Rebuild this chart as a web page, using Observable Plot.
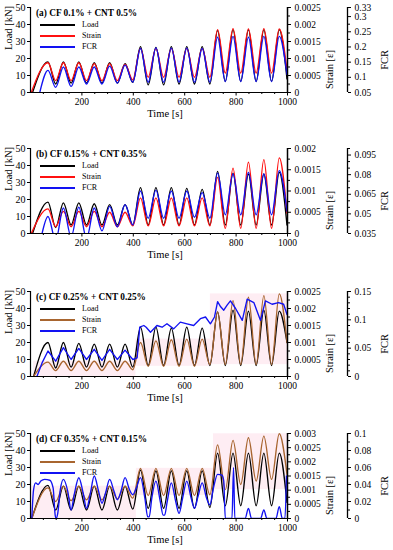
<!DOCTYPE html>
<html><head><meta charset="utf-8">
<script src="https://cdn.jsdelivr.net/npm/d3@7"></script>
<script src="https://cdn.jsdelivr.net/npm/@observablehq/plot@0.6"></script>
<style>
html,body{margin:0;padding:0;background:#fff;}
#root{position:relative;width:393px;height:550px;overflow:hidden;font-family:"Liberation Serif","Times New Roman",serif;}
.panel{position:absolute;left:0;width:393px;}
.panel svg{display:block;}
.leg{position:absolute;left:0;width:200px;height:60px;}
.ttl{position:absolute;left:36px;font-weight:bold;font-size:9.3px;line-height:11px;white-space:nowrap;color:#000}
.sw{position:absolute;left:40px;width:35px;height:1.5px}
.lbl{position:absolute;left:82px;font-size:8px;line-height:10px;color:#000;white-space:nowrap}
</style></head>
<body><div id="root"></div>
<script>
// ---------- shared ----------
const cycleTime = [68, 98, 128, 158, 188, 218, 248, 278, 308, 338, 368, 398, 428, 458, 488, 518, 548, 578, 608, 638, 668, 698, 728, 758, 788, 818, 848, 878, 908, 938, 968, 998];
const loadTicks = [0, 10, 20, 30, 40, 50];
const timeTicks = [200, 400, 600, 800, 1000];
const timeMinorTicks = [50, 100, 150, 250, 300, 350, 450, 500, 550, 650, 700, 750, 850, 900, 950];
const seriesNames = ["Load", "Strain", "FCR"];

// ---------- panel (a) ----------
const titleA = "(a) CF 0.1% + CNT 0.5%";
const startTimeA = [8, 3, 36];          // load, strain, FCR start times
const loadA = [18, 5, 18, 5.5, 18, 5.5, 17.5, 5.5, 17.5, 5.5, 17, 6, 27, 4.5, 26.5, 4.5, 27, 5, 27, 5, 27, 5, 36.5, 6.5, 37, 6.5, 37, 6.5, 37, 6.5, 37, 8];
const strainA = [0.000875, 0.00035, 0.000875, 0.00035, 0.000875, 0.00035, 0.00085, 0.00035, 0.00085, 0.00035, 0.000825, 0.00037, 0.0013, 0.00045, 0.0013, 0.00045, 0.0013, 0.00045, 0.0013, 0.00045, 0.0013, 0.00045, 0.00185, 0.00057, 0.00188, 0.00057, 0.00187, 0.00057, 0.00188, 0.00057, 0.00187, 0.00065];
const fcrA = [0.123, 0.067, 0.134, 0.07, 0.134, 0.078, 0.134, 0.078, 0.137, 0.081, 0.14, 0.084, 0.195, 0.084, 0.197, 0.084, 0.196, 0.084, 0.196, 0.084, 0.195, 0.084, 0.232, 0.086, 0.235, 0.086, 0.232, 0.086, 0.235, 0.086, 0.235, 0.11];
const strainTicksA = [0, 0.0005, 0.001, 0.0015, 0.002, 0.0025];
const strainMinorA = [0.00025, 0.00075, 0.00125, 0.00175, 0.00225];
const fcrTicksA = [0.05, 0.1, 0.15, 0.2, 0.25, 0.3, 0.33];
const fcrMinorA = [0.075, 0.125, 0.175, 0.225, 0.275];

// ---------- panel (b) ----------
const titleB = "(b) CF 0.15% + CNT 0.35%";
const startTimeB = [8, 3, 45];
const loadB = [18.5, 3.5, 18, 5, 18, 5, 17.5, 5, 17, 5, 17, 5, 27, 5, 27, 5, 27, 5, 26.5, 5, 26, 5, 36.5, 5, 35.5, 5, 35, 5, 35, 5, 36, 5];
const strainB = [0.00058, 0.00016, 0.00052, 0.00016, 0.00052, 0.00016, 0.00052, 0.00016, 0.0005, 0.00016, 0.0005, 0.00018, 0.00084, 0.00018, 0.00084, 0.00018, 0.00084, 0.00018, 0.00084, 0.00018, 0.00084, 0.00018, 0.00132, 0.00012, 0.00154, 0.00012, 0.00168, 0.00012, 0.00174, 0.00012, 0.00178, 0.00048];
const fcrB = [0.048, 0.0298, 0.0545, 0.0324, 0.0552, 0.0311, 0.0545, 0.037, 0.0558, 0.0402, 0.0571, 0.0415, 0.0675, 0.0467, 0.0682, 0.0467, 0.0675, 0.0467, 0.0675, 0.0474, 0.0662, 0.0467, 0.0812, 0.0493, 0.0805, 0.0493, 0.0818, 0.0493, 0.0805, 0.0493, 0.0831, 0.052];
const strainTicksB = [0, 0.0005, 0.001, 0.0015, 0.002];
const strainMinorB = [0.00025, 0.00075, 0.00125, 0.00175];
const fcrTicksB = [0.035, 0.05, 0.065, 0.08, 0.095];
const fcrMinorB = [0.04, 0.045, 0.055, 0.06, 0.07, 0.075, 0.085, 0.09, 0.1];

// ---------- panel (c) ----------
const titleC = "(c) CF 0.25% + CNT 0.25%";
const startTimeC = [12, 12];
const loadC = [20, 5, 20, 5.5, 19.5, 5.5, 19, 5.5, 19, 5.5, 19, 5.5, 29, 6.5, 29, 6.5, 28.5, 6.5, 29, 6.5, 28.5, 6.5, 38, 6.5, 39, 6.5, 38.5, 6.5, 39, 6.5, 38.5, 20];
const strainC = [0.000425, 0.000175, 0.00045, 0.000175, 0.00045, 0.000175, 0.00045, 0.000175, 0.00045, 0.000175, 0.00045, 0.0002, 0.001, 0.0003, 0.00105, 0.0003, 0.00108, 0.0003, 0.0011, 0.0003, 0.0011, 0.00035, 0.0019, 0.00035, 0.00223, 0.00035, 0.00233, 0.00035, 0.00238, 0.00035, 0.00243, 0.001];
const fcrTimeC = [25, 45, 68, 98, 128, 158, 188, 218, 248, 278, 308, 338, 368, 398, 415, 425, 441, 450, 467, 492, 512, 531, 557, 583, 609, 635, 661, 681, 700, 716, 728, 740, 752, 765, 778, 798, 824, 843, 869, 895, 914, 940, 965, 985, 998];
const fcrC = [0, 0.024, 0.045, 0.027, 0.051, 0.03, 0.0495, 0.03, 0.048, 0.0285, 0.048, 0.03, 0.0465, 0.03, 0.033, 0.087, 0.09, 0.087, 0.078, 0.09, 0.087, 0.093, 0.084, 0.096, 0.093, 0.09, 0.102, 0.105, 0.093, 0.105, 0.132, 0.123, 0.117, 0.126, 0.1335, 0.12, 0.099, 0.1365, 0.1305, 0.099, 0.1335, 0.1275, 0.1305, 0.1275, 0.1095];
const strainTicksC = [0, 0.0005, 0.001, 0.0015, 0.002, 0.0025];
const strainMinorC = [0.00025, 0.00075, 0.00125, 0.00175, 0.00225];
const fcrTicksC = [0, 0.05, 0.1, 0.15];
const fcrMinorC = [0.01, 0.02, 0.03, 0.04, 0.06, 0.07, 0.08, 0.09, 0.11, 0.12, 0.13, 0.14];
const stageBreaksC = [12, 410, 700, 1000];

// ---------- panel (d) ----------
const titleD = "(d) CF 0.35% + CNT 0.15%";
const startTimeD = [5, 5];
const loadD = [19.5, 5, 19, 5, 19, 5, 19, 5, 19, 5, 19, 5.5, 28.5, 6, 28, 6, 28, 6, 28, 6, 28, 6.5, 38.5, 7.5, 38.5, 7.5, 38.5, 7.5, 38.5, 7.5, 38.5, 9.5];
const strainD = [0.00108, 0.0006, 0.00114, 0.00063, 0.00114, 0.00066, 0.00114, 0.00066, 0.00114, 0.00069, 0.00114, 0.00072, 0.00177, 0.00081, 0.00177, 0.00081, 0.00177, 0.00081, 0.00177, 0.00081, 0.00177, 0.00084, 0.0026, 0.00102, 0.00276, 0.0012, 0.00285, 0.00132, 0.00291, 0.00138, 0.00299, 0.00156];
const fcrTimeD = [5, 12, 20, 30, 40, 55, 75, 88, 96, 100, 106, 116, 128, 145, 158, 170, 188, 205, 218, 232, 248, 265, 278, 292, 308, 325, 338, 352, 368, 385, 398, 412, 428, 445, 456, 462, 472, 488, 505, 516, 522, 532, 548, 565, 578, 592, 608, 625, 638, 652, 668, 685, 698, 712, 728, 745, 752, 758, 784, 790, 795, 835, 848, 860, 895, 908, 920, 955, 968, 980, 990, 996];
const fcrD = [0, 0.034, 0.042, 0.04, 0.044, 0.046, 0.045, 0.036, 0.004, 0, 0.006, 0.034, 0.046, 0.032, 0.01, 0.028, 0.048, 0.03, 0.012, 0.028, 0.05, 0.032, 0.018, 0.03, 0.046, 0.032, 0.022, 0.032, 0.048, 0.034, 0.028, 0.036, 0.048, 0.024, 0.002, 0.002, 0.024, 0.044, 0.02, 0.004, 0.004, 0.02, 0.042, 0.02, 0.006, 0.024, 0.044, 0.024, 0.012, 0.026, 0.042, 0.024, 0.016, 0.036, 0.052, 0.051, 0.044, 0, 0, 0.06, 0, 0, 0.012, 0, 0, 0.01, 0, 0, 0.014, 0, 0, 0.05];
const strainTicksD = [0, 0.0005, 0.001, 0.0015, 0.002, 0.0025, 0.003];
const strainMinorD = [0.00025, 0.00075, 0.00125, 0.00175, 0.00225, 0.00275];
const fcrTicksD = [0, 0.02, 0.04, 0.06, 0.08, 0.1];
const fcrMinorD = [0.01, 0.03, 0.05, 0.07, 0.09];
const stageBreaksD = [5, 412, 712, 1000];

// ---------- colours ----------
const BLACK = "#000000", RED = "#ff1010", BROWN = "#a8652f", BLUE = "#1212f2", PINK = "#fde6ee";

const panels = [
  {top: 0, height: 135, title: titleA, strainColor: RED, load: loadA, strain: strainA, loadStart: startTimeA[0], strainStart: startTimeA[1],
   fcrTime: [startTimeA[2]].concat(cycleTime), fcr: [0.05].concat(fcrA), strainMax: 0.0025, fcrMin: 0.05, fcrMax: 0.33,
   strainTicks: strainTicksA, strainMinor: strainMinorA, fcrTicks: fcrTicksA, fcrMinor: fcrMinorA, fcrCurve: "monotone-x"},
  {top: 141, height: 135, title: titleB, strainColor: RED, load: loadB, strain: strainB, loadStart: startTimeB[0], strainStart: startTimeB[1],
   fcrTime: [startTimeB[2]].concat(cycleTime), fcr: [0.035].concat(fcrB), strainMax: 0.002, fcrMin: 0.035, fcrMax: 0.1,
   strainTicks: strainTicksB, strainMinor: strainMinorB, fcrTicks: fcrTicksB, fcrMinor: fcrMinorB, fcrCurve: "monotone-x"},
  {top: 284, height: 135, title: titleC, strainColor: BROWN, load: loadC, strain: strainC, loadStart: startTimeC[0], strainStart: startTimeC[1],
   fcrTime: fcrTimeC, fcr: fcrC, strainMax: 0.0025, fcrMin: 0, fcrMax: 0.15,
   strainTicks: strainTicksC, strainMinor: strainMinorC, fcrTicks: fcrTicksC, fcrMinor: fcrMinorC, fcrCurve: "linear", stages: stageBreaksC},
  {top: 426, height: 124, title: titleD, strainColor: BROWN, load: loadD, strain: strainD, loadStart: startTimeD[0], strainStart: startTimeD[1],
   fcrTime: fcrTimeD, fcr: fcrD, strainMax: 0.003, fcrMin: 0, fcrMax: 0.1,
   strainTicks: strainTicksD, strainMinor: strainMinorD, fcrTicks: fcrTicksD, fcrMinor: fcrMinorD, fcrCurve: "monotone-x", stages: stageBreaksD}
];

const root = document.getElementById("root");
const MT = 7, PH = 85, FCR_DX = 60;
const fmt = d => String(d);
const blank = () => "";

for (const p of panels) {
  const k = 50 / p.strainMax;
  const kf = 50 / (p.fcrMax - p.fcrMin);
  const sy = d => d * k;
  const fy = d => (d - p.fcrMin) * kf;

  const loadRows = [{t: p.loadStart, v: 0}].concat(cycleTime.map((t, i) => ({t, v: p.load[i]})));
  const strainRows = [{t: p.strainStart, v: 0}].concat(cycleTime.map((t, i) => ({t, v: sy(p.strain[i])})));
  const fcrRows = p.fcrTime.map((t, i) => ({t, v: fy(p.fcr[i])}));

  let stageRows = [];
  if (p.stages) {
    for (let s = 0; s < p.stages.length - 1; s++) {
      const pts = strainRows.filter(r => r.t >= p.stages[s] && r.t < p.stages[s + 1]);
      stageRows.push({x1: p.stages[s], x2: p.stages[s + 1], y1: d3.min(pts, r => r.v), y2: d3.max(pts, r => r.v)});
    }
  }

  const lineOpts = {x: "t", y: "v", strokeWidth: 1.35, clip: true};
  const marks = [
    p.stages ? Plot.rect(stageRows, {x1: "x1", x2: "x2", y1: "y1", y2: "y2", fill: PINK, fillOpacity: 0.7}) : null,
    Plot.line(loadRows, {...lineOpts, stroke: BLACK, curve: "monotone-x"}),
    Plot.line(strainRows, {...lineOpts, stroke: p.strainColor, curve: "monotone-x"}),
    Plot.line(fcrRows, {...lineOpts, stroke: BLUE, curve: p.fcrCurve}),
    Plot.ruleX([0], {stroke: BLACK, strokeWidth: 1.2}),
    Plot.ruleY([0], {stroke: BLACK, strokeWidth: 1.2}),
    Plot.ruleX([1000], {stroke: BLACK, strokeWidth: 1.5}),
    Plot.ruleX([1000], {stroke: BLACK, strokeWidth: 1.3, dx: FCR_DX}),
    Plot.axisY(loadTicks, {anchor: "left", tickSize: 3, tickPadding: 2, tickFormat: fmt, label: null, fontSize: 10}),
    Plot.axisX(timeTicks, {anchor: "bottom", tickSize: 3.5, tickPadding: 2.5, tickFormat: fmt, label: null, fontSize: 9.5}),
    Plot.axisX(timeMinorTicks, {anchor: "bottom", tickSize: 2, tickFormat: blank, label: null}),
    Plot.axisY(p.strainTicks, {anchor: "right", y: sy, tickSize: 3, tickPadding: 4, tickFormat: fmt, label: null, fontSize: 9.5}),
    Plot.axisY(p.strainMinor, {anchor: "right", y: sy, tickSize: 2, tickFormat: blank, label: null}),
    Plot.axisY(p.fcrTicks, {anchor: "right", y: fy, dx: FCR_DX, tickSize: 3, tickPadding: 4, tickFormat: fmt, label: null, fontSize: 9.5}),
    Plot.axisY(p.fcrMinor, {anchor: "right", y: fy, dx: FCR_DX, tickSize: 2, tickFormat: blank, label: null}),
    Plot.text(["Load [kN]"], {text: d => d, frameAnchor: "left", dx: -22, rotate: -90, fontSize: 10.5}),
    Plot.text(["Time [s]"], {text: d => d, frameAnchor: "bottom", dy: 24, dx: 6, fontSize: 10.5}),
    Plot.text(["Strain [ε]"], {text: d => d, frameAnchor: "right", dx: 42, rotate: -90, fontSize: 10.5}),
    Plot.text(["FCR"], {text: d => d, frameAnchor: "right", dx: 97, rotate: -90, fontSize: 10.5})
  ];

  const chart = Plot.plot({
    width: 393, height: p.height,
    marginLeft: 30, marginRight: 106, marginTop: MT, marginBottom: p.height - MT - PH,
    x: {domain: [0, 1000]},
    y: {domain: [0, 50]},
    style: {fontFamily: '"Liberation Serif", "Times New Roman", serif', fontSize: "9.5px", color: "#000", background: "transparent", overflow: "visible"},
    marks
  });

  const panel = document.createElement("div");
  panel.className = "panel";
  panel.style.top = p.top + "px";
  panel.style.height = p.height + "px";
  panel.appendChild(chart);
  root.appendChild(panel);

  // legend overlay
  const rowY = [18, 29, 40];
  const colors = [BLACK, p.strainColor, BLUE];
  const leg = document.createElement("div");
  leg.className = "leg";
  leg.style.top = (p.top + MT) + "px";
  let html = `<div class="ttl" style="top:1px">${p.title}</div>`;
  seriesNames.forEach((name, i) => {
    html += `<div class="sw" style="top:${rowY[i] - 1}px;background:${colors[i]}"></div>`;
    html += `<div class="lbl" style="top:${rowY[i] - 5.5}px">${name}</div>`;
  });
  leg.innerHTML = html;
  root.appendChild(leg);
}
</script>
</body></html>
